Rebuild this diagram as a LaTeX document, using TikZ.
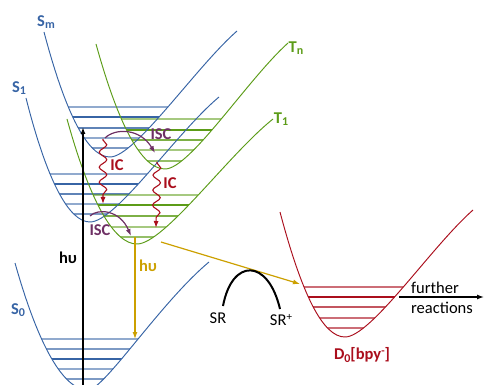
\documentclass[tikz,border=0pt]{standalone}
\usepackage{fontspec}
\setmainfont{Carlito}
\usetikzlibrary{arrows.meta,decorations.pathmorphing}
\definecolor{cblue}{RGB}{55,100,165}
\definecolor{cgreen}{RGB}{92,156,24}
\definecolor{cred}{RGB}{170,14,28}
\definecolor{cpurple}{RGB}{110,48,100}
\definecolor{cgold}{RGB}{204,160,0}
\newcommand{\lsub}[1]{\raisebox{-0.32ex}{\fontsize{12}{12}\selectfont #1}}
\newcommand{\lsup}[1]{\raisebox{0.7ex}{\fontsize{11}{11}\selectfont #1}}
\begin{document}
\begin{tikzpicture}[x=1pt,y=-1pt,
  pes/.style={line width=0.95pt},
  lvl/.style={line width=1.1pt},
  lbl/.style={font=\fontsize{16.5}{18}\selectfont\bfseries, inner sep=0pt},
  txt/.style={font=\fontsize{16.5}{18}\selectfont, inner sep=0pt},
  tip/.style={-{Latex[length=7pt,width=5pt]}},
  excite/.style={tip, line width=1.4pt, black},
  emit/.style={tip, line width=1.2pt, cgold},
  iscarrow/.style={tip, line width=1.2pt, cpurple},
  icarrow/.style={tip, line width=1.1pt, cred, decorate,
    decoration={snake, amplitude=3.8pt, segment length=15pt, pre length=1pt, post length=6pt}}]
\useasboundingbox (0,0) rectangle (485,385);

% ---------- vibrational levels (clipped by the curves) ----------
\begin{scope}
  \clip (44,32) .. controls (66,115) and (88,157) .. (110,157) .. controls (135,157) and (195,68) .. (237,31) -- cycle;
  \foreach \y/\o in {107/.55,117/1,128/.8,138/.55,148/.65}
    \draw[lvl, cblue, opacity=\o] (0,\y) -- (485,\y);
\end{scope}
\begin{scope}
  \clip (26,98) .. controls (47,181) and (69,222) .. (90,222) .. controls (116,222) and (176,133) .. (219,97) -- cycle;
  \foreach \y/\o in {174/.55,184/1,194/.8,204/.55,214/.65}
    \draw[lvl, cblue, opacity=\o] (0,\y) -- (485,\y);
\end{scope}
\begin{scope}
  \clip (96,44) .. controls (119,127) and (142,169) .. (165,169) .. controls (190,169) and (247,80) .. (288,43) -- cycle;
  \foreach \y/\o in {119/.55,130/1,140/.8,150/.55,161/.65}
    \draw[lvl, cgreen, opacity=\o] (0,\y) -- (485,\y);
\end{scope}
\begin{scope}
  \clip (67,119) .. controls (90,202) and (114,244) .. (137,244) .. controls (164,244) and (228,155) .. (273,119) -- cycle;
  \foreach \y/\o in {195/.55,205/1,216/.8,227/.55,237/.65}
    \draw[lvl, cgreen, opacity=\o] (0,\y) -- (485,\y);
\end{scope}
\begin{scope}
  \clip (15,263) .. controls (39,348) and (64,390) .. (88,390) .. controls (104,390) and (160,303) .. (209,262) -- cycle;
  \foreach \y/\o in {339/.55,349/.65,359/1,369/.55,379/.65}
    \draw[lvl, cblue, opacity=\o] (0,\y) -- (485,\y);
\end{scope}
\begin{scope}
  \clip (280,212) .. controls (302,295) and (323,337) .. (345,337) .. controls (371,337) and (431,247) .. (473,210) -- cycle;
  \foreach \y/\o in {287/.6,297/1,307/.7,318/.6,328/.6}
    \draw[lvl, cred, opacity=\o] (0,\y) -- (485,\y);
\end{scope}

% ---------- potential energy curves ----------
\draw[pes, cblue] (44,32) .. controls (66,115) and (88,157) .. (110,157) .. controls (135,157) and (195,68) .. (237,31);
\draw[pes, cblue] (26,98) .. controls (47,181) and (69,222) .. (90,222) .. controls (116,222) and (176,133) .. (219,97);
\draw[pes, cgreen] (96,44) .. controls (119,127) and (142,169) .. (165,169) .. controls (190,169) and (247,80) .. (288,43);
\draw[pes, cgreen] (67,119) .. controls (90,202) and (114,244) .. (137,244) .. controls (164,244) and (228,155) .. (273,119);
\draw[pes, cblue] (15,263) .. controls (39,348) and (64,390) .. (88,390) .. controls (104,390) and (160,303) .. (209,262);
\draw[pes, cred] (280,212) .. controls (302,295) and (323,337) .. (345,337) .. controls (371,337) and (431,247) .. (473,210);

% ---------- coordinates for transitions ----------
\coordinate (exS) at (83,385);
\coordinate (exE) at (83,127);
\coordinate (phS) at (135,237);
\coordinate (phE) at (135,339);
\coordinate (etS) at (161,242);
\coordinate (etE) at (300,284);
\coordinate (frS) at (399,297);
\coordinate (frE) at (484,297);
\coordinate (icAs) at (103,139);
\coordinate (icAe) at (103,204);
\coordinate (icBs) at (157,162);
\coordinate (icBe) at (156,228);
\coordinate (iscAs) at (105,138);
\coordinate (iscAe) at (155,153);
\coordinate (iscBs) at (90,216);
\coordinate (iscBe) at (131,236);
\coordinate (srL) at (223,306);
\coordinate (srR) at (280,309);

% ---------- transitions ----------
\draw[excite] (exS) -- (exE);
\draw[emit] (phS) -- (phE);
\draw[emit] (etS) -- (etE);
\draw[line width=2pt, black] (srL) .. controls (232,258) and (268,258) .. (srR);
\draw[tip, line width=1.3pt, black] (frS) -- (frE);
\draw[icarrow] (icAs) -- (icAe);
\draw[icarrow] (icBs) -- (icBe);
\draw[iscarrow] (iscAs) .. controls (115,128) and (140,128) .. (iscAe);
\draw[iscarrow] (iscBs) .. controls (98,208) and (120,210) .. (iscBe);

% ---------- labels ----------
\node[lbl, cblue] (lSm) at (46,22) {S\lsub{m}};
\node[lbl, cblue] (lS1) at (19,88) {S\lsub{1}};
\node[lbl, cblue] (lS0) at (18,310) {S\lsub{0}};
\node[lbl, cgreen] (lTn) at (296,48) {T\lsub{n}};
\node[lbl, cgreen] (lT1) at (281,119) {T\lsub{1}};
\node[lbl, black] (lhv1) at (68,258) {hυ};
\node[lbl, cgold] (lhv2) at (148,266) {hυ};
\node[lbl, cred] (lic1) at (117,165) {IC};
\node[lbl, cred] (lic2) at (170,183) {IC};
\node[lbl, cpurple] (lisc1) at (161,134) {ISC};
\node[lbl, cpurple] (lisc2) at (100,230) {ISC};
\node[txt] (lSR) at (218,318) {SR};
\node[txt] (lSRp) at (281,320) {SR\lsup{+}};
\node[txt, anchor=west] (lfur) at (411,288) {further};
\node[txt, anchor=west] (lrea) at (411,308) {reactions};
\node[lbl, cred] (lD0) at (362,355) {D\lsub{0}[bpy\lsup{-}]};
\end{tikzpicture}
\end{document}
